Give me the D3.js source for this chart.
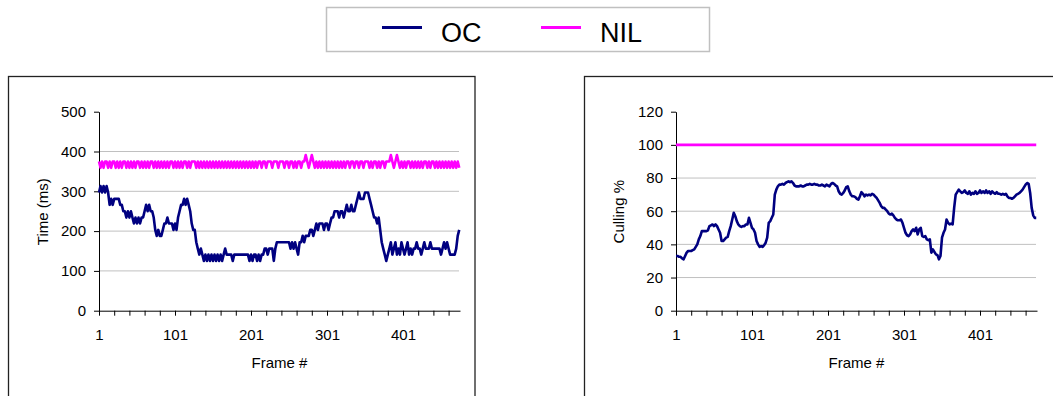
<!DOCTYPE html>
<html lang="en">
<head>
<meta charset="UTF-8">
<title>OC vs NIL</title>
<script src="https://cdnjs.cloudflare.com/ajax/libs/d3/7.8.5/d3.min.js"></script>
<style>
  body { margin: 0; background: #fff; }
  svg { display: block; font-family: "Liberation Sans", Arial, sans-serif; }
</style>
</head>
<body>
<div id="chart"></div>
<script>
// frames are sampled every 2nd frame (1, 3, 5, ... 475)
var frames = d3.range(1, 476, 2);
var seriesNames = ["OC", "NIL"];
var seriesColors = ["#000080", "#ff00ff"];

// render time per frame (ms)
var ocTime = [
  297,313,297,313,297,313,297,266,281,266,
  281,281,281,281,266,266,250,250,234,250,
  234,250,234,219,234,219,234,219,234,234,
  250,266,250,266,250,250,234,203,188,203,
  188,188,203,219,219,234,219,219,219,203,
  219,203,234,250,266,266,281,266,281,266,
  250,219,203,203,172,156,141,156,141,125,
  141,125,141,125,141,125,141,125,141,125,
  141,125,141,156,141,141,141,141,125,141,
  141,141,141,141,141,141,141,141,141,125,
  141,125,141,141,125,141,125,141,141,156,
  156,141,156,156,156,125,156,172,172,172,
  172,172,172,172,172,172,156,172,156,172,
  156,141,172,172,188,172,188,188,188,203,
  203,188,203,219,203,219,219,219,203,219,
  219,203,219,234,234,250,250,250,234,250,
  250,234,250,266,250,250,266,250,250,266,
  281,297,281,281,281,297,297,297,281,266,
  250,234,234,219,234,203,172,156,141,125,
  141,156,172,141,156,172,141,156,141,172,
  156,141,156,172,141,156,141,156,156,172,
  156,156,141,156,172,156,156,156,172,156,
  156,156,156,156,156,141,156,172,156,172,
  156,141,141,141,141,156,188,203
];
var nilTime = [
  375,359,375,359,375,375,359,375,359,375,
  375,359,375,359,375,359,375,375,359,375,
  359,375,359,375,359,375,375,359,375,359,
  375,359,375,359,375,375,359,375,359,375,
  359,375,359,375,359,375,359,375,375,359,
  375,359,375,359,375,359,375,375,359,375,
  359,375,375,375,359,375,359,375,359,375,
  359,375,359,375,359,375,359,375,359,375,
  359,375,359,375,359,375,359,375,359,375,
  359,375,359,375,359,375,359,375,359,375,
  359,375,359,375,359,375,375,359,375,375,
  359,375,375,375,359,375,375,375,359,375,
  375,375,359,375,375,359,375,375,359,375,
  359,375,375,359,375,375,391,375,359,375,
  391,375,359,375,359,375,359,375,359,375,
  359,375,359,375,359,375,359,375,359,375,
  359,375,359,375,375,359,375,375,359,375,
  375,359,375,375,359,375,375,375,359,375,
  359,375,375,359,375,359,375,375,359,375,
  375,375,391,375,359,375,391,375,359,375,
  359,375,359,375,375,359,375,359,375,359,
  375,359,375,359,375,375,359,375,359,375,
  375,359,375,359,375,359,375,359,375,359,
  375,359,375,359,375,359,375,359
];

// culling percentage per frame
var ocCull = [
  33,33,32.5,32.5,31.5,31,33,35,36,36,
  36,36.5,37,38.5,40,43,45,48,48,48,
  48,48.5,51,51.5,52,51,52,51,49,47,
  42,42,43,44,44.5,48,51,55,59,57,
  54,52,51,50.5,51,51,52,52,56,53,
  50,49,47,42,40,38.5,39,38.5,39.5,41,
  44,53,54,56,58,70,73,75,76,76,
  76.5,76,77,77.5,78,77.5,78,77,75.5,75,
  75,75,75.5,75,75,75.5,76,76,76.5,76,
  76,76.5,76,76,75.5,75.5,76,75.5,75,76,
  75.5,75,76.5,77,76.5,75.5,75,72,70.5,70,
  71,72.5,74.5,75,72,70,69,69,68.5,67.5,
  67,69,71.5,70.5,69,70,69.5,70,69.5,70.5,
  70,69,68,66.5,65,63,62,62,61,60,
  58.5,58,58.5,57.5,56,55,54.5,54.5,55,53,
  50,47,45.5,45,46,48,49,48,50,46,
  49,50,45,44.5,45,43,42.5,43,35,37,
  35.5,34,33.5,31,33,44,47,49,55,53,
  52,52.5,52,62,70,71.5,73,72,71,71.5,
  72.5,71,70.5,72,70,71,70.5,72,70.5,71,
  72.5,71,72,71,72.5,71,72,70.5,72,71,
  70.5,71.5,70.5,70.5,70,70.5,70,70.5,69,68,
  68,67.5,68,69,70,70.5,71,72,73,74.5,
  76,77,76.5,71,62,57.5,56,56
];
var nilCull = [
  100,100,100,100,100,100,100,100,100,100,100,100,100,100,100,100,100,100,100,100,
  100,100,100,100,100,100,100,100,100,100,100,100,100,100,100,100,100,100,100,100,
  100,100,100,100,100,100,100,100,100,100,100,100,100,100,100,100,100,100,100,100,
  100,100,100,100,100,100,100,100,100,100,100,100,100,100,100,100,100,100,100,100,
  100,100,100,100,100,100,100,100,100,100,100,100,100,100,100,100,100,100,100,100,
  100,100,100,100,100,100,100,100,100,100,100,100,100,100,100,100,100,100,100,100,
  100,100,100,100,100,100,100,100,100,100,100,100,100,100,100,100,100,100,100,100,
  100,100,100,100,100,100,100,100,100,100,100,100,100,100,100,100,100,100,100,100,
  100,100,100,100,100,100,100,100,100,100,100,100,100,100,100,100,100,100,100,100,
  100,100,100,100,100,100,100,100,100,100,100,100,100,100,100,100,100,100,100,100,
  100,100,100,100,100,100,100,100,100,100,100,100,100,100,100,100,100,100,100,100,
  100,100,100,100,100,100,100,100,100,100,100,100,100,100,100,100,100,100,100,100
].slice(0, frames.length);

var timeTicks = [0, 100, 200, 300, 400, 500];
var cullTicks = [0, 20, 40, 60, 80, 100, 120];
var frameTicks = d3.range(1, 477, 20);
var frameLabels = [1, 101, 201, 301, 401];

var W = 1053, H = 396;
var svg = d3.select("#chart").append("svg")
  .attr("width", W).attr("height", H);

// legend
var legend = svg.append("g");
legend.append("rect")
  .attr("x", 326.5).attr("y", 7.5).attr("width", 383).attr("height", 44)
  .attr("fill", "#fff").attr("stroke", "#c0c0c0").attr("stroke-width", 1.5);
var legendX = [382, 541];
seriesNames.forEach(function (name, i) {
  legend.append("line")
    .attr("x1", legendX[i]).attr("x2", legendX[i] + 40)
    .attr("y1", 27.5).attr("y2", 27.5)
    .attr("stroke", seriesColors[i]).attr("stroke-width", 3);
  legend.append("text")
    .attr("x", legendX[i] + 59).attr("y", 41.5)
    .attr("font-size", 27).attr("fill", "#000")
    .text(name);
});

function drawPanel(opt) {
  var g = svg.append("g");
  // outer frame
  g.append("rect")
    .attr("x", opt.frame[0]).attr("y", opt.frame[1])
    .attr("width", opt.frame[2]).attr("height", 400)
    .attr("fill", "none").attr("stroke", "#222").attr("stroke-width", 1.3);

  var x = d3.scaleLinear().domain([1, 476]).range([opt.left, opt.right]);
  var y = d3.scaleLinear().domain([0, opt.ymax]).range([310.7, 111.7]);

  // gridlines (not at 0 or top)
  g.selectAll(".grid").data(opt.yticks.slice(1, -1)).enter().append("line")
    .attr("x1", opt.left).attr("x2", opt.right - 1)
    .attr("y1", function (d) { return y(d); }).attr("y2", function (d) { return y(d); })
    .attr("stroke", "#c0c0c0").attr("stroke-width", 1);

  var yAxis = g.append("g").attr("transform", "translate(" + opt.left + ",0)")
    .call(d3.axisLeft(y).tickValues(opt.yticks).tickSize(5).tickSizeOuter(0).tickPadding(8));
  var xAxis = g.append("g").attr("transform", "translate(0," + y(0) + ")")
    .call(d3.axisBottom(x).tickValues(frameTicks).tickSize(5).tickSizeOuter(0).tickPadding(13.5)
      .tickFormat(function (d) { return frameLabels.indexOf(d) >= 0 ? d : ""; }));
  [yAxis, xAxis].forEach(function (a) {
    a.selectAll("text").attr("font-size", 15).attr("font-family", "Liberation Sans, Arial, sans-serif").attr("fill", "#000");
    a.selectAll("line").attr("stroke", "#000");
    a.select(".domain").attr("stroke", "#000");
  });

  var line = d3.line()
    .x(function (d, i) { return x(frames[i]); })
    .y(function (d) { return y(d); });
  opt.series.forEach(function (s, i) {
    g.append("path").datum(s)
      .attr("d", line)
      .attr("fill", "none")
      .attr("stroke", seriesColors[i])
      .attr("stroke-width", 2.6)
      .attr("stroke-linejoin", "round");
  });

  g.append("text")
    .attr("transform", "translate(" + opt.ylabelX + ",211.7) rotate(-90)")
    .attr("text-anchor", "middle").attr("font-size", 15)
    .text(opt.ylabel);
  g.append("text")
    .attr("x", (opt.left + opt.right) / 2).attr("y", 367.5)
    .attr("text-anchor", "middle").attr("font-size", 15)
    .text("Frame #");
}

drawPanel({
  frame: [8.5, 76.5, 466.5],
  left: 99, right: 460,
  ymax: 500, yticks: timeTicks,
  series: [ocTime, nilTime],
  ylabel: "Time (ms)", ylabelX: 47.5
});
drawPanel({
  frame: [584.5, 76.5, 500],
  left: 676, right: 1037,
  ymax: 120, yticks: cullTicks,
  series: [ocCull, nilCull],
  ylabel: "Culling %", ylabelX: 623.5
});
</script>
</body>
</html>
